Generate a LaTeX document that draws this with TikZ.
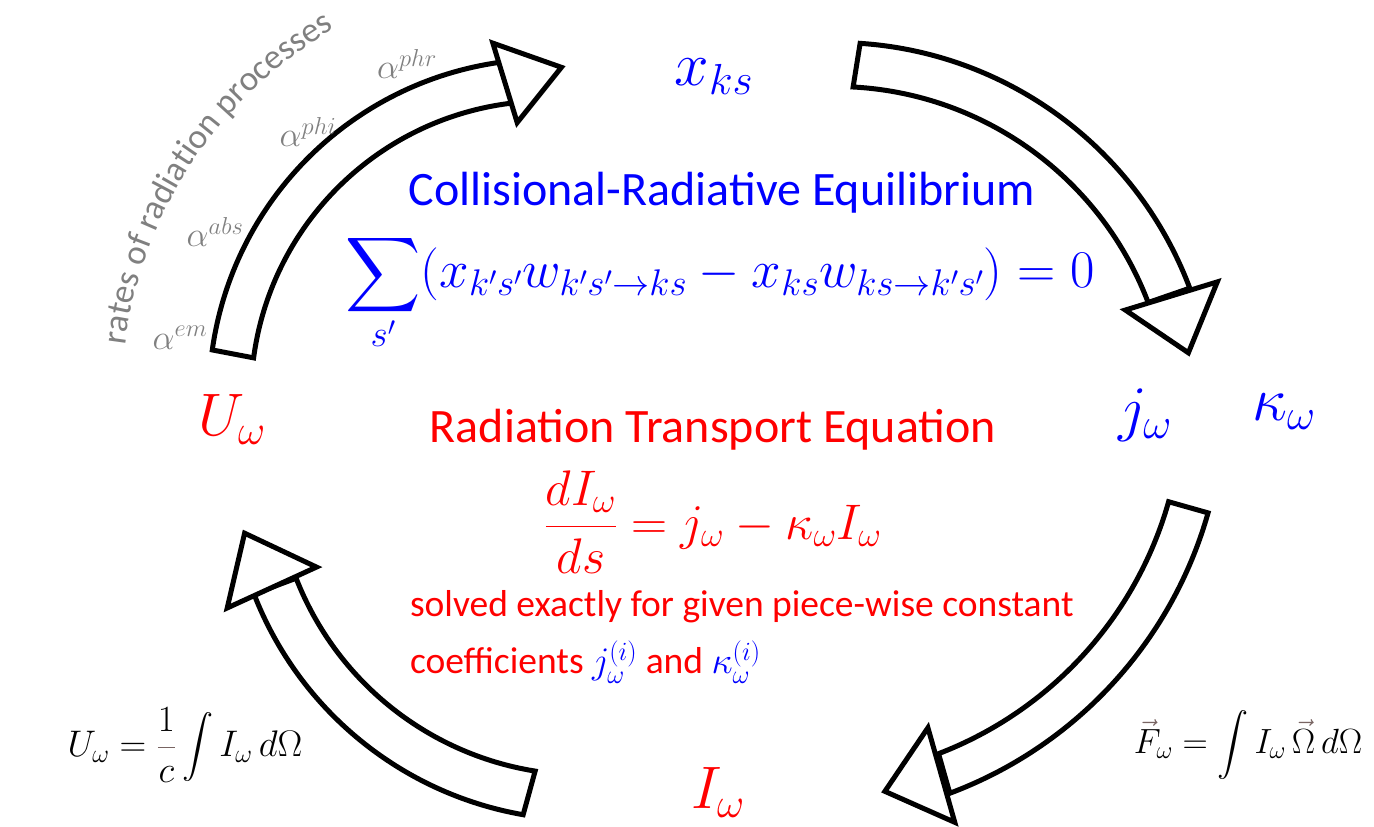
\RequirePackage{fix-cm}
\documentclass[tikz,border=0pt]{standalone}
\usepackage{amsmath}
\usepackage{graphicx}
\usepackage{fontspec}
\setmainfont{Carlito}
\usetikzlibrary{decorations.text}
\definecolor{myblue}{RGB}{0,0,255}
\definecolor{myred}{RGB}{255,0,0}
\definecolor{mygray}{RGB}{128,128,128}
\definecolor{mybrown}{RGB}{120,100,98}
\newcommand{\fs}[1]{\fontsize{#1}{#1}\selectfont}
\newcommand{\mybigsum}{\mathop{\vcenter{\hbox{\scalebox{2.1}{$\displaystyle\sum$}}}}\limits}
\newcommand{\mybigint}{\mathop{\vcenter{\hbox{\scalebox{1.25}{$\displaystyle\int$}}}}\nolimits}
\tikzset{
  blockarrow/.style={draw=black, fill=white, line width=5pt, line join=miter},
  lbl/.style={inner sep=0pt, outer sep=0pt},
  graylbl/.style={lbl, text=mygray, font=\fs{35}},
  bigblue/.style={lbl, text=myblue, font=\fs{62}},
  bigred/.style={lbl, text=myred, font=\fs{60}},
}
\begin{document}
\begin{tikzpicture}[x=1pt,y=1pt]
\useasboundingbox (0,0) rectangle (1374,827);
% arrow 1 (U -> x)
\begin{scope}[shift={(547,430)}]
  \draw[blockarrow] (172:338pt) arc[start angle=172,end angle=98,radius=338pt]
     -- (96.8:296pt) arc[start angle=96.8,end angle=172.4,radius=296pt] -- cycle;
  \draw[blockarrow] (98.7:358pt) -- (87.5:330pt) -- (96.2:276pt) -- cycle;
  \path[decorate, decoration={text along path, text align=center,
     text={|\fs{35}\color{mygray}|rates of radiation processes}}]
     (174.5:425pt) arc[start angle=174.5,end angle=118.5,radius=425pt];
\end{scope}
% arrow 2 (x -> j,kappa)
\begin{scope}[shift={(835,405.5)}]
  \draw[blockarrow] (86.2:379pt) arc[start angle=86.2,end angle=20.6,radius=379pt]
     -- (20.8:335pt) arc[start angle=20.8,end angle=86.9,radius=335pt] -- cycle;
  \draw[blockarrow] (20.06:407pt) -- (11:360pt) -- (21:311pt) -- cycle;
\end{scope}
% arrow 3 (j,kappa -> I)
\begin{scope}[shift={(802,429)}]
  \draw[blockarrow] (-15.8:422pt) arc[start angle=-15.8,end angle=-69.5,radius=422pt]
     -- (-69:381pt) arc[start angle=-69,end angle=-15.8,radius=381pt] -- cycle;
  \draw[blockarrow] (-70.2:451pt) -- (-78.1:402pt) -- (-69.1:353pt) -- cycle;
\end{scope}
% arrow 4 (I -> U)
\begin{scope}[shift={(584,361)}]
  \draw[blockarrow] (260.1:354pt) arc[start angle=260.1,end angle=201.2,radius=354pt]
     -- (201.3:309pt) arc[start angle=201.3,end angle=260.9,radius=309pt] -- cycle;
  \draw[blockarrow] (201.7:384pt) -- (191.2:346pt) -- (200.7:286pt) -- cycle;
\end{scope}
% alpha labels
\node[graylbl] (aem)  at (180,489) {$\alpha^{em}$};
\node[graylbl] (aabs) at (215,595) {$\alpha^{abs}$};
\node[graylbl] (aphi) at (308,695) {$\alpha^{phi}$};
\node[graylbl] (aphr) at (407,763) {$\alpha^{phr}$};
% quantities
\node[bigblue] (xks) at (714,750) {$x_{ks}$};
\node[bigblue] (jw)  at (1145,412) {$j_\omega$};
\node[bigblue] (kw)  at (1284,415) {$\kappa_\omega$};
\node[bigred]  (Uw)  at (232,407) {$U_\omega$};
\node[bigred]  (Iw)  at (718,34) {$I_\omega$};
% collisional-radiative equilibrium
\node[lbl, text=myblue, font=\fs{48}] (cre) at (722,634) {Collisional-Radiative Equilibrium};
\node[lbl, text=myblue, font=\fs{53}, anchor=base] (creq) at (720,539)
  {$\displaystyle\mybigsum_{s'}(x_{k's'}w_{k's'\to ks}-x_{ks}w_{ks\to k's'})=0$};
% radiation transport
\node[lbl, text=myred, font=\fs{48}] (rte) at (713,397) {Radiation Transport Equation};
\node[lbl, text=myred, font=\fs{50}] (rteq) at (713,305)
  {$\displaystyle\frac{dI_\omega}{ds}=j_\omega-\kappa_\omega I_\omega$};
\node[lbl, text=myred, font=\fs{37.5}, anchor=west] (sol1) at (410,220) {solved exactly for given piece-wise constant};
\node[lbl, text=myred, font=\fs{37.5}, anchor=west] (sol2) at (410,165)
  {coefficients {\color{myblue}$j_\omega^{(i)}$} and {\color{myblue}$\kappa_\omega^{(i)}$}};
% moment formulas
\node[lbl, font=\fs{37}] (Uform) at (185,82)
  {$\displaystyle U_\omega={\color{mybrown}\frac{\color{black}1}{\color{black}c}}\mybigint I_\omega\,d\Omega$};
\node[lbl, font=\fs{35}] (Fform) at (1248,82)
  {$\displaystyle {\color{mybrown}\vec{\color{black}F}}_{\!\omega}=\mybigint I_\omega\,{\color{mybrown}\vec{\color{black}\Omega}}\,d\Omega$};
\end{tikzpicture}
\end{document}
